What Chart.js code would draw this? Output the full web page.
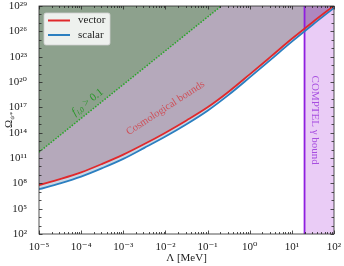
<!DOCTYPE html>
<html><head><meta charset="utf-8">
<script src="https://cdn.jsdelivr.net/npm/chart.js@4/dist/chart.umd.min.js"></script>
<style>html,body{margin:0;padding:0;background:#fff;overflow:hidden}#wrap{width:344px;height:266px}</style>
</head><body>
<div id="wrap"><canvas id="c"></canvas></div>
<script>
// ---- data ----
const lambdaMeV = [1e-5, 3.16e-5, 1e-4, 3.16e-4, 1e-3, 3.16e-3, 1e-2, 3.16e-2, 1e-1, 3.16e-1, 1, 3.16, 10, 31.6, 100];
const omegaVector = [6.3e7, 3.2e8, 2.0e9, 2.0e10, 2.5e11, 4.5e12, 1.0e14, 2.8e15, 1.0e17, 7e18, 8e20, 1e23, 1.3e25, 1.3e27, 1.1e29];
const omegaScalar = [2.0e7, 1.0e8, 6.3e8, 6.3e9, 7.9e10, 1.6e12, 3.5e13, 1.0e15, 4.0e16, 3e18, 3.5e20, 4.5e22, 6e24, 6.5e26, 6e28];
const fracLambda = [1e-5, 1e-1, 1];
const fracOmega = [5e11, 5e27, 5e31];
const comptelLambda = 20;
const xTicks = [1e-5, 1e-4, 1e-3, 1e-2, 1e-1, 1, 10, 100];
const xTickLabels = ['10⁻⁵', '10⁻⁴', '10⁻³', '10⁻²', '10⁻¹', '10⁰', '10¹', '10²'];
const yTicks = [1e2, 1e5, 1e8, 1e11, 1e14, 1e17, 1e20, 1e23, 1e26, 1e29];
const yTickLabels = ['10²', '10⁵', '10⁸', '10¹¹', '10¹⁴', '10¹⁷', '10²⁰', '10²³', '10²⁶', '10²⁹'];
const xRange = [1e-5, 1e2];
const yRange = [1e2, 1e29];

const SERIF = '"Liberation Serif", "DejaVu Serif", serif';
const pts = (xs, ys) => xs.map((v, i) => ({x: v, y: ys[i]}));

const fillsAndFrame = {
  id: 'frameTicks',
  afterDatasetsDraw(chart) {
    const {ctx, chartArea: a, scales: {x, y}} = chart;
    ctx.save();
    ctx.strokeStyle = '#262626';
    ctx.lineWidth = 0.8;
    const seg = (x1, y1, x2, y2) => { ctx.beginPath(); ctx.moveTo(x1, y1); ctx.lineTo(x2, y2); ctx.stroke(); };
    for (let e = -5; e <= 2; e++) {
      for (let m = 1; m < 10; m++) {
        const v = m * Math.pow(10, e);
        if (v > xRange[1] * 1.0001) break;
        const px = Math.round(x.getPixelForValue(v)) + 0.5;
        const L = m === 1 ? 3.5 : 2;
        seg(px, a.bottom, px, a.bottom - L);
        seg(px, a.top, px, a.top + L);
      }
    }
    for (let e = 2; e <= 29; e++) {
      const py = Math.round(y.getPixelForValue(Math.pow(10, e))) + 0.5;
      const L = (e - 2) % 3 === 0 ? 3.5 : 2.5;
      seg(a.left, py, a.left + L, py);
      seg(a.right, py, a.right - L, py);
    }
    ctx.strokeRect(a.left, a.top, a.width, a.height);

    // annotations anchored in data space
    const text = (str, vx, vy, ang, color, size) => {
      ctx.save();
      ctx.translate(x.getPixelForValue(vx), y.getPixelForValue(vy));
      ctx.rotate(ang * Math.PI / 180);
      ctx.fillStyle = color;
      ctx.font = size + 'px ' + SERIF;
      ctx.textAlign = 'center';
      ctx.textBaseline = 'middle';
      ctx.fillText(str, 0, 0);
      ctx.restore();
    };
    text('Cosmological bounds', 1e-2, 8e16, -33, 'rgba(215,50,55,0.75)', 10.5);
    text('COMPTEL γ bound', 35, 3e15, 90, '#a84ee0', 11);
    // f_{i,0} > 0.1
    ctx.save();
    ctx.translate(x.getPixelForValue(1.4e-4), y.getPixelForValue(4e17));
    ctx.rotate(-38 * Math.PI / 180);
    ctx.fillStyle = '#2a962a';
    ctx.textBaseline = 'middle';
    ctx.font = 'italic 11px ' + SERIF;
    const w1 = ctx.measureText('f').width;
    ctx.font = 'italic 7.5px ' + SERIF;
    const w2 = ctx.measureText('i,0').width;
    ctx.font = '11px ' + SERIF;
    const w3 = ctx.measureText(' > 0.1').width;
    let sx = -(w1 + w2 + w3) / 2;
    ctx.font = 'italic 11px ' + SERIF; ctx.fillText('f', sx, 0); sx += w1 + 0.5;
    ctx.font = 'italic 7.5px ' + SERIF; ctx.fillText('i,0', sx, 3); sx += w2;
    ctx.font = '11px ' + SERIF; ctx.fillText(' > 0.1', sx, 0);
    ctx.restore();
    ctx.restore();
  },
  afterDraw(chart) {
    const {ctx, chartArea: a} = chart;
    ctx.save();
    // axis titles
    ctx.fillStyle = '#222';
    ctx.font = '11px ' + SERIF;
    ctx.textAlign = 'center';
    ctx.textBaseline = 'middle';
    ctx.fillText('Λ [MeV]', (a.left + a.right) / 2, 258);
    ctx.save();
    ctx.translate(9, (a.top + a.bottom) / 2);
    ctx.rotate(-Math.PI / 2);
    ctx.textAlign = 'left';
    ctx.font = '11px ' + SERIF;
    const wO = ctx.measureText('Ω').width;
    ctx.font = 'italic 7px ' + SERIF;
    const wS = ctx.measureText('ψ*').width;
    const s0 = -(wO + wS) / 2;
    ctx.font = '11px ' + SERIF; ctx.fillText('Ω', s0, 0);
    ctx.font = 'italic 7px ' + SERIF; ctx.fillText('ψ*', s0 + wO, 3);
    ctx.restore();
    // legend
    const lx = a.left + 5, ly = a.top + 7, lw = 66, lh = 32;
    ctx.beginPath();
    ctx.roundRect(lx, ly, lw, lh, 2);
    ctx.fillStyle = 'rgba(255,255,255,0.85)';
    ctx.fill();
    ctx.strokeStyle = '#d0d0d0';
    ctx.lineWidth = 0.8;
    ctx.stroke();
    const items = [chart.data.datasets[7], chart.data.datasets[6]];
    items.forEach((ds, i) => {
      const yy = ly + 7.5 + i * 14.5;
      ctx.strokeStyle = ds.borderColor;
      ctx.lineWidth = 2;
      ctx.beginPath(); ctx.moveTo(lx + 4, yy); ctx.lineTo(lx + 26, yy); ctx.stroke();
      ctx.fillStyle = '#222';
      ctx.font = '11px ' + SERIF;
      ctx.textAlign = 'left';
      ctx.textBaseline = 'middle';
      ctx.fillText(ds.label, lx + 34, yy);
    });
    ctx.restore();
  }
};

const common = {pointRadius: 0, cubicInterpolationMode: 'monotone', borderWidth: 0};
new Chart(document.getElementById('c'), {
  type: 'line',
  data: {
    datasets: [
      {...common, label: 'cosmoFill', data: pts(lambdaMeV, omegaVector), fill: 'end', backgroundColor: 'rgb(181,169,187)', order: 10},
      {...common, label: 'fracFill', data: pts(fracLambda, fracOmega), fill: 'end', backgroundColor: 'rgb(141,161,141)', cubicInterpolationMode: 'default', tension: 0, order: 9},
      {...common, label: 'band', data: pts(lambdaMeV, omegaScalar), fill: 0, backgroundColor: 'rgb(200,214,228)', order: 8},
      {...common, label: 'comptelFill', data: [{x: comptelLambda, y: yRange[1]}, {x: xRange[1], y: yRange[1]}], fill: 'start', backgroundColor: 'rgba(148,0,211,0.2)', tension: 0, order: 7},
      {pointRadius: 0, label: 'frac', data: pts(fracLambda, fracOmega), fill: false, borderColor: '#28a428', borderWidth: 1.5, borderDash: [1.5, 1.5], tension: 0, order: 6},
      {pointRadius: 0, label: 'comptel', data: [{x: comptelLambda, y: yRange[0]}, {x: comptelLambda, y: yRange[1]}], fill: false, borderColor: '#8f1ee0', borderWidth: 1.8, tension: 0, order: 5},
      {pointRadius: 0, cubicInterpolationMode: 'monotone', label: 'scalar', data: pts(lambdaMeV, omegaScalar), fill: false, borderColor: '#2c7fc0', borderWidth: 1.8, order: 4},
      {pointRadius: 0, cubicInterpolationMode: 'monotone', label: 'vector', data: pts(lambdaMeV, omegaVector), fill: false, borderColor: '#e0292c', borderWidth: 1.8, order: 3}
    ]
  },
  options: {
    responsive: true,
    maintainAspectRatio: false,
    animation: false,
    devicePixelRatio: 1,
    layout: {padding: {left: 0, right: 10, top: 6, bottom: 0}},
    plugins: {legend: {display: false}, tooltip: {enabled: false}},
    scales: {
      x: {
        type: 'logarithmic', min: xRange[0], max: xRange[1],
        grid: {display: false}, border: {display: false},
        afterBuildTicks: s => { s.ticks = xTicks.map(v => ({value: v})); },
        afterFit: s => { s.height = 32; s.paddingLeft = 0; s.paddingRight = 0; },
        ticks: {autoSkip: false, maxRotation: 0, padding: -1, color: '#222', font: {family: SERIF, size: 11},
                callback: (v, i) => xTickLabels[i]}
      },
      y: {
        type: 'logarithmic', min: yRange[0], max: yRange[1],
        grid: {display: false}, border: {display: false},
        afterBuildTicks: s => { s.ticks = yTicks.map(v => ({value: v})); },
        afterFit: s => { s.width = 39; s.paddingTop = 0; s.paddingBottom = 0; },
        ticks: {autoSkip: false, padding: 4, color: '#222', font: {family: SERIF, size: 11},
                callback: (v, i) => yTickLabels[i]}
      }
    }
  },
  plugins: [fillsAndFrame]
});
</script>
</body></html>
